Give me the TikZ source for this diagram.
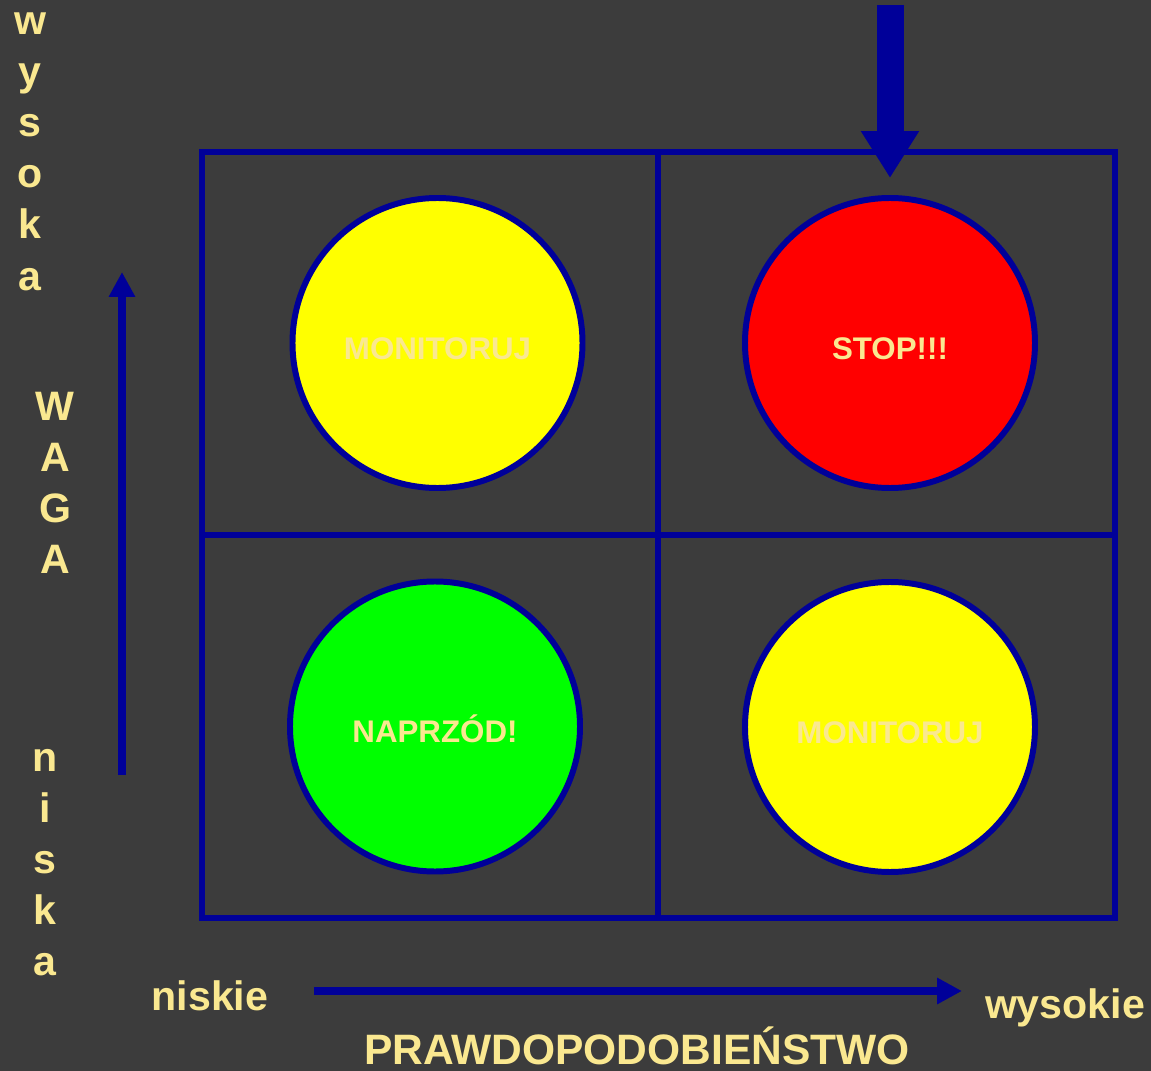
\documentclass[tikz,border=0pt]{standalone}
\usepackage{fontspec}
\setmainfont{Liberation Sans}
\usepackage{xcolor}
\usepackage{tikz}
\usetikzlibrary{arrows.meta,positioning}
\definecolor{slate}{HTML}{3C3C3C}
\definecolor{navy}{HTML}{000099}
\definecolor{cream}{HTML}{FAE890}
\definecolor{lampY}{HTML}{FFFF00}
\definecolor{lampR}{HTML}{FF0000}
\definecolor{lampG}{HTML}{00FF00}

\begin{document}
\begin{tikzpicture}[
  font=\bfseries,
  lamp/.style={circle,draw=navy,line width=3.4pt,minimum size=5.8cm,inner sep=0pt,text height=0.65cm,text depth=0cm,text=cream,font=\fontsize{17.8}{20}\selectfont\bfseries},
  grid/.style={draw=navy,line width=3.4pt},
  axis/.style={-{Triangle[length=0.5cm,width=0.5cm]},draw=navy,line width=4.5pt},
  lbl/.style={text=cream,font=\fontsize{23.4}{28}\selectfont\bfseries,inner sep=0pt,anchor=base}
]
\fill[slate] (0,0) rectangle (23.02,-21.42);
\useasboundingbox (0,0) rectangle (23.02,-21.42);

% the four fields
\coordinate (nw) at (4.04,-3.04);
\coordinate (se) at (22.30,-18.36);
\draw[grid] (nw) rectangle (se);
\draw[grid] (13.16,-3.04) -- (13.16,-18.36);
\draw[grid] (4.04,-10.70) -- (22.30,-10.70);

\node[lamp,fill=lampY] (monA) at (8.75,-6.86)  {MONITORUJ};
\node[lamp,fill=lampR] (stop) at (17.80,-6.86) {STOP!!!};
\node[lamp,fill=lampG] (go)   at (8.70,-14.53) {NAPRZÓD!};
\node[lamp,fill=lampY] (monB) at (17.80,-14.54) {MONITORUJ};

% big arrow onto the red field
\coordinate (drop) at (17.80,-0.10);
\draw[navy,line width=0.54cm,-{Triangle[length=0.94cm,width=1.1cm]}] (drop) -- ([yshift=0.34cm]stop.north);

% axes
\coordinate (wlo) at (2.44,-15.50);
\coordinate (whi) at (2.44,-5.44);
\draw[axis] (wlo) -- (whi);
\coordinate (plo) at (6.28,-19.82);
\coordinate (phi) at (19.24,-19.82);
\draw[axis] (plo) -- (phi);

% axis texts
\foreach \ch [count=\i] in {w,y,s,o,k,a}
  \node[lbl] (hi\i) at (0.60,{-0.70-1.02*(\i-1)}) {\ch};
\foreach \ch [count=\i] in {W,A,G,A}
  \node[lbl] (waga\i) at (1.10,{-8.40-1.02*(\i-1)}) {\ch};
\foreach \ch [count=\i] in {n,i,s,k,a}
  \node[lbl] (lo\i) at (0.90,{-15.42-1.02*(\i-1)}) {\ch};

\node[lbl] (pmin) at (4.20,-20.20) {niskie};
\node[lbl] (pmax) at (21.30,-20.36) {wysokie};
\node[lbl,font=\fontsize{24.2}{28}\selectfont\bfseries] (prob) at (12.74,-21.28) {PRAWDOPODOBIEŃSTWO};
\end{tikzpicture}
\end{document}
